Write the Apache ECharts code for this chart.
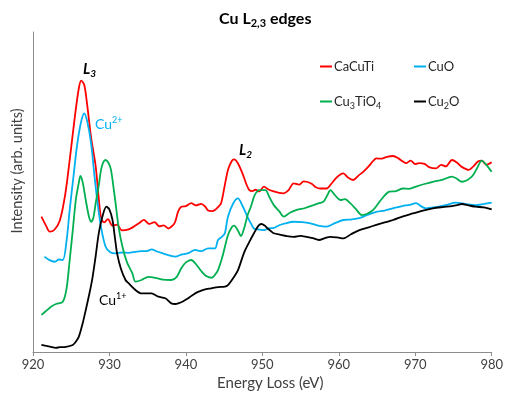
<!DOCTYPE html>
<html>
<head>
<meta charset="utf-8">
<script src="https://cdn.jsdelivr.net/npm/echarts@6/dist/echarts.min.js"></script>
<style>
  html, body { margin: 0; padding: 0; background: #fff; }
  #chart { width: 506px; height: 403px; }
</style>
</head>
<body>
<div id="chart"></div>
<script>
// energy loss (eV), intensity (arb. units, 0-100 scale)
var caCuTi = [
  [921.1,42.3],[921.7,39.5],[922.2,37.6],[922.8,38.2],[923.5,41],[924.2,49],[924.8,60],[925.5,74],[926.0,82.5],[926.3,84.8],
  [926.7,83.5],[927.1,77],[927.6,67],[928.2,58],[928.6,48],[928.9,42],[929.3,40.5],[929.8,41.5],[930.4,39.5],[931.0,39.8],
  [931.6,38],[932.5,38.3],[933.4,39.5],[934.0,40.5],[934.5,41.3],[935.2,40],[935.9,40.6],[936.5,39.3],[937.1,39.6],[937.7,38.6],
  [938.3,39.6],[938.6,40.7],[939.0,44],[939.4,45.4],[940.0,45.6],[940.7,46.5],[941.3,45.8],[942.0,46.3],[942.5,45.5],[942.9,44.2],
  [943.4,44],[943.8,44.4],[944.2,45.3],[944.6,46.5],[945.0,51],[945.5,56.9],[946.0,59.7],[946.3,60.2],[946.8,59],[947.4,55.8],
  [947.9,52.5],[948.3,50.6],[948.7,50.3],[949.1,50.7],[949.6,50.2],[950.2,51.7],[950.8,50.8],[951.5,50.2],[952.2,49.7],[952.8,49.6],
  [953.4,50.5],[954.1,52.7],[954.8,52.3],[955.4,53.3],[955.8,53.2],[956.5,52.5],[957.0,51.5],[957.6,51.1],[958.4,51.1],[959.0,52.5],
  [959.7,54.5],[960.2,55.5],[960.6,55.8],[961.2,54.5],[961.9,53.75],[962.6,55.2],[963.2,56.3],[963.9,58],[964.5,59.7],[964.9,60.5],
  [965.6,60.4],[966.3,61],[967.1,61.25],[967.8,60.5],[968.4,59.5],[968.8,59],[969.4,59.8],[970.0,58.7],[970.5,59],[971.2,58.8],
  [971.8,57.8],[972.7,57.4],[973.4,58.5],[974.0,58],[974.8,60],[975.4,59.3],[976.0,58],[977.0,56.9],[977.6,58],[978.2,59.5],
  [978.7,59.8],[979.3,58.5],[980,59.3]
];
var cuO = [
  [921.5,29.8],[922.1,28.8],[922.8,28.2],[923.4,28.9],[923.9,28.75],[924.4,35],[924.8,44.4],[925.3,55],[925.8,65.2],[926.3,72],
  [926.7,74.6],[927.1,72],[927.6,65.2],[928.0,56],[928.4,47.5],[928.9,39],[929.5,32.9],[930.1,31.2],[930.8,30.8],[931.6,31.1],
  [932.5,31],[933.4,31.3],[934.2,31.5],[935.0,31.6],[935.5,32.1],[936.2,31.4],[937.0,30.8],[937.7,30.3],[938.6,29.8],[939.4,30.4],
  [940.3,30.9],[941.2,31.9],[942.0,31.5],[942.9,32.4],[943.8,32.4],[944.2,35],[944.7,36],[945.1,37.1],[945.5,42.3],[946.2,46.5],
  [946.8,48],[947.4,45.7],[948.1,42],[948.5,40.2],[948.9,38.6],[949.4,38.3],[950.2,38.1],[950.8,38.6],[951.5,38.8],[952.2,39.6],
  [953.0,40.2],[954.1,40.7],[955.2,40.6],[956.3,40.2],[957.3,39.5],[958.4,39.2],[959.5,40.3],[960.6,41.25],[961.6,41.4],[962.7,41.8],
  [963.8,42.9],[964.9,43.8],[966.0,44.2],[967.1,44.9],[968.3,45.6],[969.3,46.0],[970.1,46.5],[970.8,45.5],[971.4,44.9],[972.3,45.2],
  [973.1,45.4],[974.2,46],[975.3,46.7],[976.5,46.3],[977.9,45.9],[979.0,46.3],[980,46.7]
];
var cu3TiO4 = [
  [921.1,11.6],[921.7,12.8],[922.4,14.2],[923.0,15],[923.9,15.7],[924.4,20],[924.8,28.75],[925.2,38],[925.6,47.5],[926.0,53],
  [926.2,55],[926.5,53],[926.9,47.5],[927.3,42.5],[927.6,40.7],[927.9,42],[928.2,46.5],[928.6,52],[928.9,56.9],[929.2,59.3],
  [929.5,60],[929.9,59],[930.2,56.9],[930.5,52],[930.8,46.5],[931.2,39],[931.7,32.9],[932.3,28],[933.0,24.6],[933.4,22],
  [934.2,22.5],[935.1,23.5],[936.0,23.2],[937.0,22.6],[938.1,22.5],[938.8,23.5],[939.4,26.2],[940.0,28],[940.7,28.75],[941.3,27.5],
  [942.0,25.3],[942.6,23.8],[943.3,23.2],[943.7,23.8],[944.2,25.6],[944.8,30],[945.5,36.5],[946.0,39],[946.3,39.5],[946.8,38],
  [947.2,36.2],[947.6,38.5],[948.1,43],[948.5,45.4],[949.0,49],[949.6,50.6],[950.4,50.6],[950.9,48.5],[951.5,45.9],[952.2,44],
  [952.8,42.3],[953.6,43.5],[954.5,44.4],[955.6,45],[956.7,45.9],[957.4,46.5],[958.0,47],[958.5,49],[958.9,50.6],[959.5,49],
  [960.2,47.5],[960.8,47.8],[961.5,46.5],[962.3,44.5],[963.0,42.8],[963.7,43.2],[964.5,44.4],[965.5,47.5],[966.6,50.1],[967.5,50.3],
  [968.4,51.1],[969.2,51],[970.1,51.7],[971.2,52.5],[972.3,53.2],[973.5,53.8],[974.8,54.8],[975.4,54.2],[976.1,53.2],[977.4,54.8],
  [978.1,57.5],[978.7,59.8],[979.3,58.5],[980,56.3]
];
var cu2O = [
  [921.1,2.2],[922.2,1.7],[923.0,1.3],[923.5,1.5],[924.3,1.6],[925.2,2.2],[925.6,3.2],[926.0,4.8],[926.5,9],[926.9,13.1],
  [927.4,18.5],[927.8,23.5],[928.2,30],[928.6,37.1],[929.1,42.5],[929.6,45.4],[930.0,44.5],[930.4,41.25],[930.7,36],[931.0,30.8],
  [931.5,26],[932.1,22.5],[932.5,21.5],[933.4,19.4],[934.2,18.3],[935.5,18.3],[936.4,17.3],[937.3,16.8],[938.1,15.2],[938.6,15.0],
  [939.0,15.2],[939.6,15.8],[940.3,16.8],[941.0,18],[941.6,18.8],[942.4,19.5],[943.3,19.9],[944.2,20.3],[945.1,20.4],[945.5,20.9],
  [946.3,23.5],[946.8,25.5],[947.6,31],[948.1,33.5],[948.9,37.1],[949.5,39.5],[949.9,40],[950.3,39.5],[950.7,38.6],[951.1,37.8],
  [951.5,37.1],[952.4,36.6],[953.2,36.2],[954.1,36],[955.0,36.3],[955.8,36],[956.6,35.6],[957.4,35],[958.2,35.6],[958.9,36],
  [959.8,35.8],[960.6,35.5],[961.6,36.8],[962.7,38.1],[963.8,38.9],[964.9,39.7],[966.0,40.5],[967.1,41.25],[968.4,42.4],[969.7,43.3],
  [971.0,44.2],[972.3,44.9],[973.6,45.3],[974.8,45.6],[975.5,45.9],[976.1,46.25],[977.0,45.8],[977.9,45.4],[979.0,45.2],[980,44.6]
];
var seriesNames = ['CaCuTi', 'CuO', 'Cu3TiO4', 'Cu2O'];
var seriesColors = ['#ff0000', '#00b0f0', '#00b050', '#000000'];
var seriesData = [caCuTi, cuO, cu3TiO4, cu2O];
var legendLabels = {
  'CaCuTi': 'CaCuTi',
  'CuO': 'CuO',
  'Cu3TiO4': 'Cu{sub|3}TiO{sub|4}',
  'Cu2O': 'Cu{sub|2}O'
};

var FONT = 'Lato, "Open Sans", sans-serif';
var chart = echarts.init(document.getElementById('chart'));

var legendPos = [[315, 55], [409, 55], [315, 90], [409, 90]];
var legends = seriesNames.map(function (n, i) {
  return {
    data: [n],
    left: legendPos[i][0],
    top: legendPos[i][1],
    icon: 'rect',
    itemWidth: 12,
    itemHeight: 2,
    itemGap: 2,
    selectedMode: false,
    formatter: function (name) { return legendLabels[name]; },
    textStyle: {
      fontFamily: FONT, fontSize: 13, color: '#262626', padding: [0, 0, 0, -3],
      rich: { sub: { fontSize: 9, padding: [10, 0, 0, 0], fontFamily: FONT, color: '#262626' } }
    }
  };
});

chart.setOption({
  animation: false,
  title: {
    text: 'Cu L{sub|2,3} edges',
    left: 214,
    top: 4,
    textStyle: {
      fontFamily: FONT, fontSize: 16, fontWeight: 'bold', color: '#000',
      rich: { sub: { fontFamily: FONT, fontSize: 11, fontWeight: 'bold', padding: [9, 0, 0, 0], color: '#000' } }
    }
  },
  legend: legends,
  grid: { left: 33, right: 9, top: 32, bottom: 51 },
  xAxis: {
    type: 'value',
    min: 920,
    max: 980,
    interval: 10,
    name: 'Energy Loss (eV)',
    nameLocation: 'middle',
    nameGap: 21,
    nameTextStyle: { fontFamily: FONT, fontSize: 15, color: '#404040', padding: [0, 0, 0, 16] },
    axisLine: { lineStyle: { color: '#8c8c8c', width: 1 } },
    axisTick: { show: true, length: 4, lineStyle: { color: '#8c8c8c' } },
    axisLabel: { fontFamily: FONT, fontSize: 13, color: '#404040', margin: 6 },
    splitLine: { show: false }
  },
  yAxis: {
    type: 'value',
    min: 0,
    max: 100,
    name: 'Intensity (arb. units)',
    nameLocation: 'middle',
    nameGap: 8,
    nameTextStyle: { fontFamily: FONT, fontSize: 14.5, color: '#404040', padding: [0, 0, 0, 42] },
    axisLine: { show: true, lineStyle: { color: '#8c8c8c', width: 1 } },
    axisTick: { show: false },
    axisLabel: { show: false },
    splitLine: { show: false }
  },
  graphic: [
    { type: 'text', left: 83, top: 62, style: { text: '{l|L}{s|3}', rich: {
      l: { fontFamily: FONT, fontSize: 15, fontWeight: 'bold', fontStyle: 'italic', fill: '#000' },
      s: { fontFamily: FONT, fontSize: 10, fontWeight: 'bold', fontStyle: 'italic', fill: '#000', padding: [8, 0, 0, 0] } } } },
    { type: 'text', left: 239, top: 143, style: { text: '{l|L}{s|2}', rich: {
      l: { fontFamily: FONT, fontSize: 15, fontWeight: 'bold', fontStyle: 'italic', fill: '#000' },
      s: { fontFamily: FONT, fontSize: 10, fontWeight: 'bold', fontStyle: 'italic', fill: '#000', padding: [8, 0, 0, 0] } } } },
    { type: 'text', left: 95, top: 116, style: { text: '{c|Cu}{s|2+}', rich: {
      c: { fontFamily: FONT, fontSize: 14, fill: '#00b0f0' },
      s: { fontFamily: FONT, fontSize: 9, fill: '#00b0f0', padding: [0, 0, 7, 0] } } } },
    { type: 'text', left: 99, top: 292, style: { text: '{c|Cu}{s|1+}', rich: {
      c: { fontFamily: FONT, fontSize: 14, fill: '#000' },
      s: { fontFamily: FONT, fontSize: 9, fill: '#000', padding: [0, 0, 7, 0] } } } }
  ],
  series: seriesNames.map(function (n, i) {
    return {
      name: n,
      type: 'line',
      data: seriesData[i],
      symbol: 'none',
      smooth: 0.3,
      color: seriesColors[i],
      lineStyle: { width: 1.8, color: seriesColors[i] }
    };
  })
});
</script>
</body>
</html>
